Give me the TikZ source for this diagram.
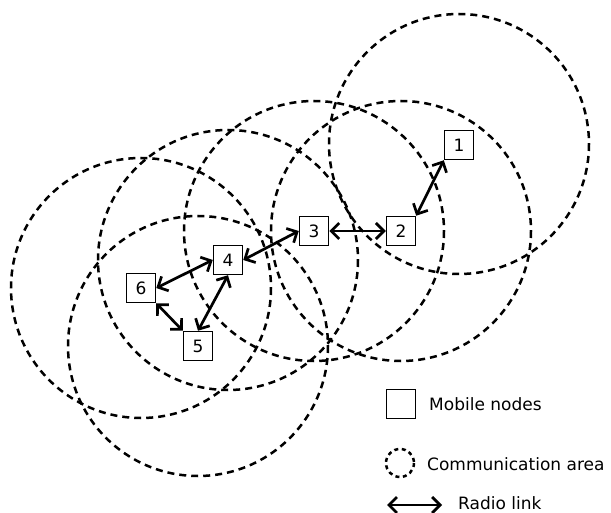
\documentclass[tikz,border=0pt]{standalone}
\usepackage{fontspec}
\setmainfont{DejaVu Sans}
\usetikzlibrary{arrows.meta}
\begin{document}
\begin{tikzpicture}[x=1pt,y=-1pt,
  mnode/.style={draw,line width=1.5pt,minimum size=29pt,inner sep=0pt,fill=white,font=\fontsize{17}{20}\selectfont},
  area/.style={draw,line width=2.5pt,dash pattern=on 7pt off 5pt},
  link/.style={line width=2.7pt,{Straight Barb[length=8pt,width=16pt]}-{Straight Barb[length=8pt,width=16pt]}},
  legtext/.style={anchor=west,inner sep=0pt,font=\fontsize{17}{20}\selectfont}]
\useasboundingbox (0,0) rectangle (611,513);
% communication areas
\draw[area] (459,144) circle[radius=130];
\draw[area] (401,231) circle[radius=130];
\draw[area] (314,231) circle[radius=130];
\draw[area] (228,260) circle[radius=130];
\draw[area] (141,288) circle[radius=130];
\draw[area] (198,346) circle[radius=130];
% mobile nodes
\node[mnode] (n1) at (459,145) {1};
\node[mnode] (n2) at (401,231) {2};
\node[mnode] (n3) at (314,231) {3};
\node[mnode] (n4) at (228,260) {4};
\node[mnode] (n6) at (141,288) {6};
\node[mnode] (n5) at (198,346) {5};
% radio links
\draw[link] (n2.north east) -- (n1.south west);
\draw[link] (n3.east) -- (n2.west);
\draw[link] (n4.east) -- (n3.west);
\draw[link] (n6.east) -- (n4.west);
\draw[link] (n5.north) -- (n4.south);
\draw[link] (n6.south east) -- (n5.north west);
% legend
\node[draw,line width=1.5pt,minimum size=29pt,inner sep=0pt] (lsq) at (401,404) {};
\node[legtext] (lt1) at (429,404) {Mobile nodes};
\draw[line width=2.5pt,dash pattern=on 4pt off 3.5pt] (400,463) circle[radius=14];
\coordinate (lc) at (400,463);
\node[legtext] (lt2) at (427,464) {Communication area};
\coordinate (la) at (387,505);
\coordinate (lb) at (442,505);
\draw[link] (la) -- (lb);
\node[legtext] (lt3) at (458,503) {Radio link};
\end{tikzpicture}
\end{document}
